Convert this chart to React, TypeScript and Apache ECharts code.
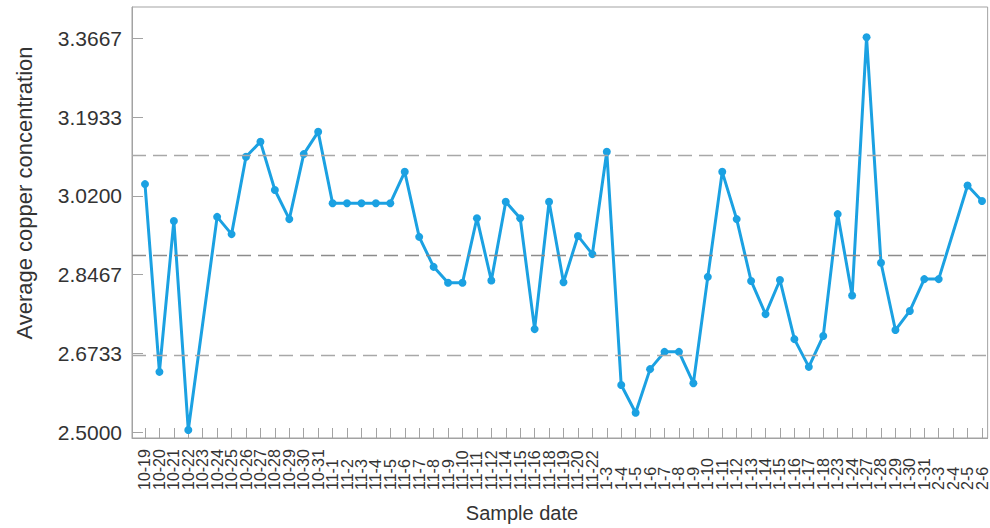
import React, { useEffect, useRef } from "react";
import * as echarts from "echarts";

const categories: string[] = [
  "10-19", "10-20", "10-21", "10-22", "10-23", "10-24", "10-25", "10-26", "10-27", "10-28",
  "10-29", "10-30", "10-31", "11-1", "11-2", "11-3", "11-4", "11-5", "11-6", "11-7",
  "11-8", "11-9", "11-10", "11-11", "11-12", "11-14", "11-15", "11-16", "11-18", "11-19",
  "11-20", "11-22", "1-3", "1-4", "1-5", "1-6", "1-7", "1-8", "1-9", "1-10",
  "1-11", "1-12", "1-13", "1-14", "1-15", "1-16", "1-17", "1-18", "1-23", "1-24",
  "1-27", "1-28", "1-29", "1-30", "1-31", "2-3", "2-4", "2-5", "2-6",
];

const concentration: (number | null)[] = [
  3.046, 2.633, 2.965, 2.505, null, 2.974, 2.936, 3.106, 3.139, 3.033,
  2.969, 3.112, 3.161, 3.004, 3.004, 3.004, 3.004, 3.004, 3.073, 2.930,
  2.864, 2.829, 2.829, 2.971, 2.834, 3.007, 2.971, 2.727, 3.007, 2.830,
  2.932, 2.892, 3.117, 2.604, 2.543, 2.639, 2.677, 2.677, 2.608, 2.842,
  3.073, 2.969, 2.833, 2.760, 2.835, 2.705, 2.644, 2.712, 2.980, 2.801,
  3.369, 2.873, 2.725, 2.767, 2.837, 2.837, null, 3.043, 3.009,
];

const yTicks: number[] = [2.5, 2.6733, 2.8467, 3.02, 3.1933, 3.3667];

const controlLimits: number[] = [3.109, 2.891, 2.673];

const FONT = '"Liberation Sans", Arial, sans-serif';
const TEXT = "#333333";
const AXIS = "#a3a3a3";

export default function App() {
  const ref = useRef<HTMLDivElement>(null);

  useEffect(() => {
    if (!ref.current) return;
    const chart = echarts.init(ref.current, undefined, { renderer: "svg" });
    const idx = categories.map((_, i) => i);
    const evenIdx = idx.filter((i) => i % 2 === 0);
    const oddIdx = idx.filter((i) => i % 2 === 1);
    const data = concentration
      .map((v, i) => (v === null ? null : [i, v]))
      .filter((d) => d !== null);

    const labelAxis = (values: number[], withLine: boolean) => ({
      type: "value",
      min: -0.9,
      max: 58.39,
      position: "bottom",
      axisLine: { show: withLine, onZero: false, lineStyle: { color: AXIS, width: 1 } },
      axisTick: {
        show: withLine,
        inside: true,
        length: 10,
        customValues: idx,
        lineStyle: { color: AXIS, width: 1 },
      },
      axisLabel: {
        show: true,
        customValues: values,
        showMinLabel: true,
        showMaxLabel: true,
        formatter: (v: number) => categories[Math.round(v)] ?? "",
        rotate: 90,
        align: "left",
        margin: 52,
        fontSize: 16,
        fontFamily: FONT,
        color: TEXT,
      },
      splitLine: { show: false },
    });

    chart.setOption({
      animation: false,
      backgroundColor: "#ffffff",
      grid: {
        left: 132,
        right: 2,
        top: 7,
        bottom: 90,
        show: true,
        borderColor: AXIS,
        borderWidth: 1,
      },
      xAxis: [labelAxis(evenIdx, true), labelAxis(oddIdx, false)],
      yAxis: {
        type: "value",
        min: 2.4875,
        max: 3.4356,
        axisLine: { show: true, onZero: false, lineStyle: { color: AXIS, width: 1 } },
        axisTick: {
          show: true,
          inside: true,
          length: 11,
          customValues: yTicks,
          lineStyle: { color: AXIS, width: 1 },
        },
        axisLabel: {
          show: true,
          customValues: yTicks,
          showMinLabel: true,
          showMaxLabel: true,
          formatter: (v: number) => v.toFixed(4),
          margin: 10,
          fontSize: 21,
          fontFamily: FONT,
          color: TEXT,
        },
        splitLine: { show: false },
      },
      graphic: [
        {
          type: "text",
          x: 24,
          y: 193,
          rotation: Math.PI / 2,
          style: {
            text: "Average copper concentration",
            fill: TEXT,
            fontSize: 22,
            fontFamily: FONT,
            align: "center",
            verticalAlign: "middle",
          },
        },
        {
          type: "text",
          x: 522,
          y: 513,
          style: {
            text: "Sample date",
            fill: TEXT,
            fontSize: 20,
            fontFamily: FONT,
            align: "center",
            verticalAlign: "middle",
          },
        },
      ],
      series: [
        {
          type: "line",
          xAxisIndex: 0,
          data,
          symbol: "circle",
          symbolSize: 8,
          itemStyle: { color: "#1ba1e2" },
          lineStyle: { color: "#1ba1e2", width: 3 },
          markLine: {
            silent: true,
            symbol: "none",
            label: { show: false },
            data: controlLimits.map((v, i) => ({
              yAxis: v,
              lineStyle: {
                color: i === 1 ? "#8c8c8c" : "#a8a8a8",
                type: [14, 7],
                width: 1.3,
              },
            })),
          },
          z: 3,
        },
      ],
    });

    return () => chart.dispose();
  }, []);

  return (
    <div
      ref={ref}
      style={{ position: "fixed", left: 0, top: 0, width: 990, height: 528 }}
    />
  );
}
